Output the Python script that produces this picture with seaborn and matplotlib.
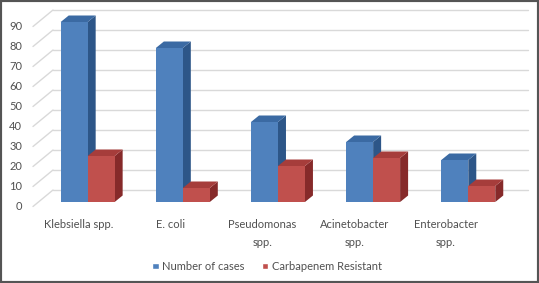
import matplotlib
matplotlib.use('Agg')
import matplotlib.pyplot as plt
import matplotlib.transforms as mtransforms
from matplotlib.patches import Polygon, Rectangle
import seaborn as sns
import pandas as pd

# data
organisms = ['Klebsiella spp.', 'E. coli', 'Pseudomonas\nspp.', 'Acinetobacter\nspp.', 'Enterobacter\nspp.']
number_of_cases = [90, 77, 40, 30, 21]
carbapenem_resistant = [23, 7, 18, 22, 8]
series_names = ['Number of cases', 'Carbapenem Resistant']
y_ticks = [0, 10, 20, 30, 40, 50, 60, 70, 80, 90]

front_colors = ['#4F81BD', '#C0504D']
top_colors = ['#3B6AA3', '#A63D3B']
side_colors = ['#2D5688', '#862A2A']
grid_color = '#D9D9D9'
text_color = '#505050'

df = pd.DataFrame({
    'organism': organisms * 2,
    'value': number_of_cases + carbapenem_resistant,
    'series': [series_names[0]] * len(organisms) + [series_names[1]] * len(organisms),
})

sns.set_style('white')
plt.rcParams['font.family'] = ['Lato', 'DejaVu Sans']
plt.rcParams['font.size'] = 8

W, H = 539, 283
fig = plt.figure(figsize=(W / 100, H / 100), dpi=100)
ax = fig.add_axes([38 / W, (H - 202) / H, 475 / W, 200 / H])

sns.barplot(data=df, x='organism', y='value', hue='series', palette=front_colors,
            saturation=1, width=0.567, gap=0, ax=ax, zorder=2)

handles, labels = ax.get_legend_handles_labels()
if ax.get_legend() is not None:
    ax.get_legend().remove()

ax.set_xlim(-0.522, 4.47)
ax.set_ylim(0, 100)
for s in ax.spines.values():
    s.set_visible(False)
ax.set_xlabel('')
ax.set_ylabel('')
ax.set_yticks([])
ax.grid(False)

# pixel -> data scale
inv = ax.transData.inverted()
p0 = inv.transform((0, 0))
p1 = inv.transform((1, 1))
px_x = p1[0] - p0[0]
px_y = p1[1] - p0[1]
x0, x1 = ax.get_xlim()

# back wall gridlines and left wall diagonals
back = mtransforms.offset_copy(ax.transData, fig=fig, x=15, y=12, units='dots')
for v in y_ticks:
    ax.plot([x0, x1], [v, v], color=grid_color, lw=1, transform=back, zorder=0, clip_on=False)
    ax.plot([x0 - 5 * px_x, x0 + 15 * px_x], [v - 4.5 * px_y, v + 12 * px_y],
            color=grid_color, lw=1, zorder=0, clip_on=False)
    ax.text(x0 - 16 * px_x, v - 4.5 * px_y, str(v), ha='right', va='center',
            color=text_color, fontsize=8, clip_on=False)

# 3D faces on every bar
dx, dy = 8 * px_x, 6.5 * px_y
for k, cont in enumerate(ax.containers):
    z = 2 + k
    for bar in cont:
        bx, bw, bh = bar.get_x(), bar.get_width(), bar.get_height()
        bar.set_zorder(z + 0.2)
        bar.set_edgecolor('none')
        side = Polygon([(bx + bw, 0), (bx + bw + dx, dy), (bx + bw + dx, bh + dy), (bx + bw, bh)],
                       closed=True, facecolor=side_colors[k], edgecolor='none', zorder=z, clip_on=False)
        top = Polygon([(bx, bh), (bx + bw, bh), (bx + bw + dx, bh + dy), (bx + dx, bh + dy)],
                      closed=True, facecolor=top_colors[k], edgecolor='none', zorder=z + 0.1, clip_on=False)
        ax.add_patch(side)
        ax.add_patch(top)

tick_pos = [i * 0.965 - 0.095 for i in range(len(organisms))]
ax.set_xticks(tick_pos, organisms)
ax.tick_params(axis='x', length=0, pad=12.5, colors=text_color, labelsize=8)
for lab in ax.get_xticklabels():
    lab.set_linespacing(1.7)

fig.legend(handles, labels, loc='center', bbox_to_anchor=(267 / W, 1 - 266.5 / H),
           ncol=2, frameon=False, fontsize=8, handlelength=0.55, handleheight=0.55,
           handletextpad=0.3, columnspacing=1.6, labelcolor=text_color)

fig.add_artist(Rectangle((0, 0), 1, 1, transform=fig.transFigure, fill=False,
                         edgecolor='#555555', lw=3, zorder=10))

plt.savefig('out.png', dpi=100)
